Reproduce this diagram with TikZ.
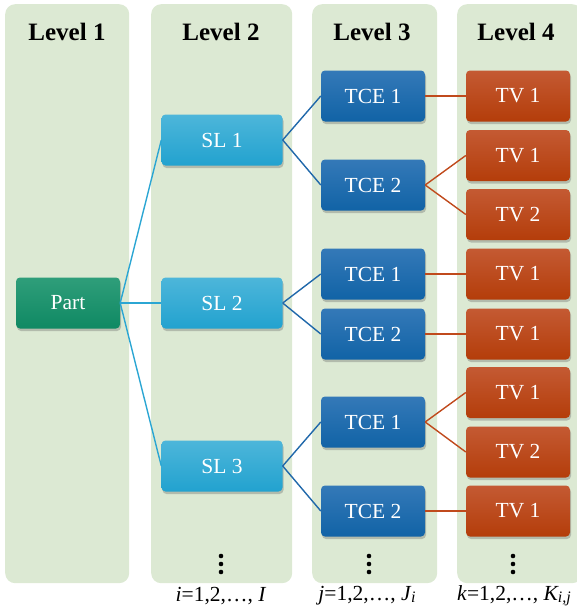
\documentclass[tikz,border=0pt]{standalone}
\usepackage{fontspec}
\setmainfont{Liberation Serif}
\usetikzlibrary{shadows}
\definecolor{panelg}{HTML}{DCE9D3}
\definecolor{slA}{HTML}{4DB6DA}
\definecolor{slB}{HTML}{22A2CF}
\definecolor{tceA}{HTML}{3479B8}
\definecolor{tceB}{HTML}{1163A6}
\definecolor{tvA}{HTML}{C45A33}
\definecolor{tvB}{HTML}{B43D0A}
\definecolor{ptA}{HTML}{2F9E7A}
\definecolor{ptB}{HTML}{0F8963}
\definecolor{lnsl}{HTML}{2BA6D3}
\definecolor{lntce}{HTML}{2068AA}
\definecolor{lntv}{HTML}{C04A1C}
\tikzset{
  panel/.style={fill=panelg, draw=none, rounded corners=10pt, anchor=north west, inner sep=0pt},
  box/.style={rounded corners=4pt, minimum width=104pt, minimum height=51pt, text=white,
    font=\fontsize{21.5}{25}\selectfont, inner sep=0pt,
    drop shadow={shadow xshift=1pt, shadow yshift=-2.5pt, opacity=0.35, fill=black!60}},
  slbox/.style={box, top color=slA, bottom color=slB, minimum width=121pt},
  tcebox/.style={box, top color=tceA, bottom color=tceB},
  tvbox/.style={box, top color=tvA, bottom color=tvB},
  partbox/.style={box, top color=ptA, bottom color=ptB},
  title/.style={font=\fontsize{25}{29}\selectfont\bfseries},
  foot/.style={font=\fontsize{21.5}{24}\selectfont},
  dotmark/.style={circle, fill=black, inner sep=0pt, minimum size=4.6pt},
  lsl/.style={draw=lnsl, line width=1.4pt},
  ltce/.style={draw=lntce, line width=1.4pt},
  ltv/.style={draw=lntv, line width=1.4pt}
}
\begin{document}
\begin{tikzpicture}[x=1pt,y=-1pt]
\useasboundingbox (0,0) rectangle (577,610);
% panels
\node[panel, minimum width=124pt, minimum height=579pt] (p1) at (5,4) {};
\node[panel, minimum width=141pt, minimum height=579pt] (p2) at (151,4) {};
\node[panel, minimum width=125pt, minimum height=579pt] (p3) at (312,4) {};
\node[panel, minimum width=125pt, minimum height=579pt] (p4) at (457,4) {};
% titles
\node[title] (t1) at (67,32) {Level 1};
\node[title] (t2) at (221,32) {Level 2};
\node[title] (t3) at (372,32) {Level 3};
\node[title] (t4) at (516,32) {Level 4};
% level 1
\node[partbox] (part) at (68,303) {Part};
% level 2
\node[slbox] (sl1) at (222,140) {SL 1};
\node[slbox] (sl2) at (222,303) {SL 2};
\node[slbox] (sl3) at (222,466) {SL 3};
% level 3
\node[tcebox] (c11) at (373,96) {TCE 1};
\node[tcebox] (c12) at (373,185) {TCE 2};
\node[tcebox] (c21) at (373,274) {TCE 1};
\node[tcebox] (c22) at (373,334) {TCE 2};
\node[tcebox] (c31) at (373,422) {TCE 1};
\node[tcebox] (c32) at (373,511) {TCE 2};
% level 4
\node[tvbox] (v111) at (518,96) {TV 1};
\node[tvbox] (v121) at (518,155.5) {TV 1};
\node[tvbox] (v122) at (518,214.5) {TV 2};
\node[tvbox] (v211) at (518,274) {TV 1};
\node[tvbox] (v221) at (518,334) {TV 1};
\node[tvbox] (v311) at (518,392.5) {TV 1};
\node[tvbox] (v312) at (518,452) {TV 2};
\node[tvbox] (v321) at (518,511) {TV 1};
% connectors
\foreach \s in {sl1,sl2,sl3} \draw[lsl] (part.east) -- (\s.west);
\draw[ltce] (sl1.east) -- (c11.west);
\draw[ltce] (sl1.east) -- (c12.west);
\draw[ltce] (sl2.east) -- (c21.west);
\draw[ltce] (sl2.east) -- (c22.west);
\draw[ltce] (sl3.east) -- (c31.west);
\draw[ltce] (sl3.east) -- (c32.west);
\draw[ltv] (c11.east) -- (v111.west);
\draw[ltv] (c12.east) -- (v121.west);
\draw[ltv] (c12.east) -- (v122.west);
\draw[ltv] (c21.east) -- (v211.west);
\draw[ltv] (c22.east) -- (v221.west);
\draw[ltv] (c31.east) -- (v311.west);
\draw[ltv] (c31.east) -- (v312.west);
\draw[ltv] (c32.east) -- (v321.west);
% dots
\foreach \x/\n in {221/a,369/b,513/c}
  \foreach \y/\m in {556/1,564/2,572/3}
    \node[dotmark] (dot\n\m) at (\x,\y) {};
% footers
\node[foot] (f2) at (221,596) {\textit{i}=1,2,…, \textit{I}};
\node[foot] (f3) at (367,596) {\textit{j}=1,2,…, \textit{J\kern0.5pt\raisebox{-2pt}{\fontsize{16}{17}\selectfont i}}};
\node[foot] (f4) at (514,596) {\textit{k}=1,2,…, \textit{K\raisebox{-2pt}{\fontsize{16}{17}\selectfont i,j}}};
\end{tikzpicture}
\end{document}
